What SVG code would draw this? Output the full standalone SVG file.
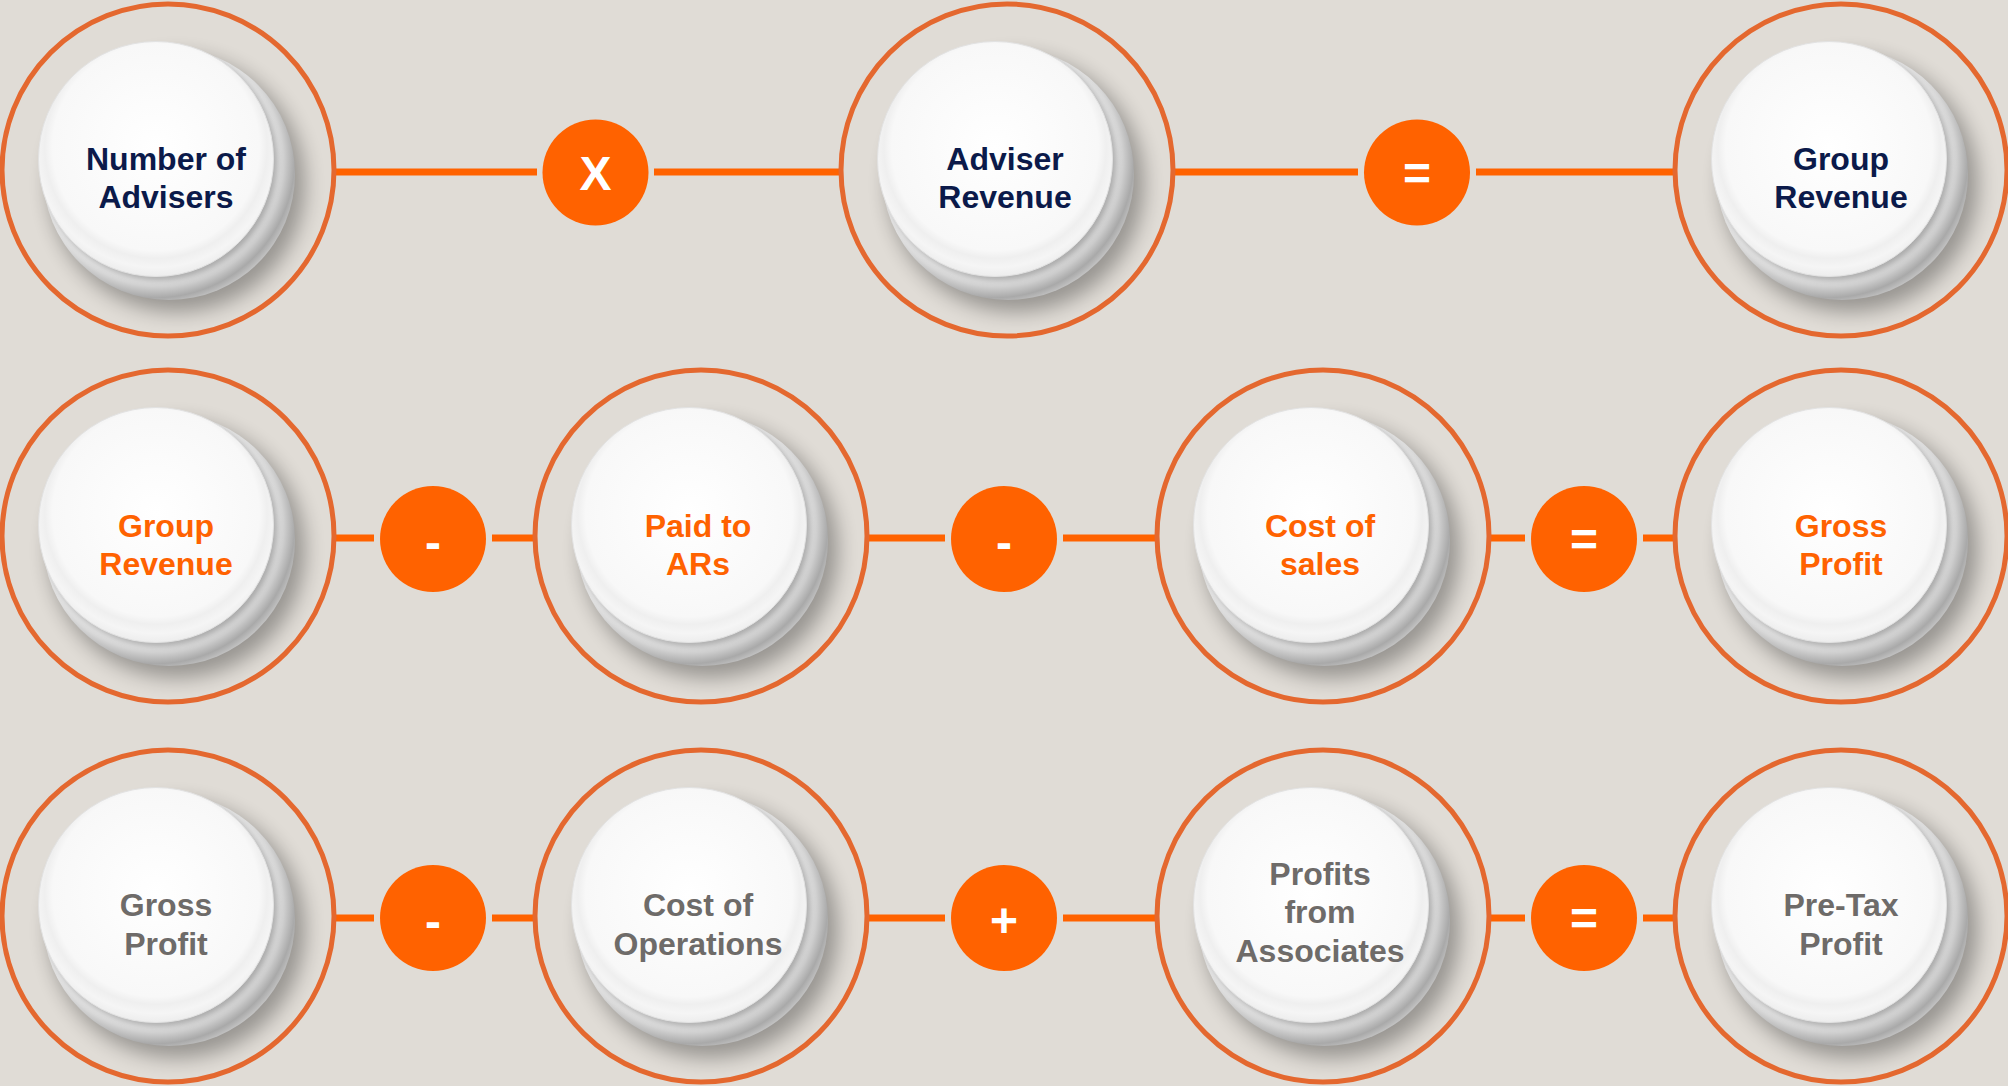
<svg xmlns="http://www.w3.org/2000/svg" width="2008" height="1086" viewBox="0 0 2008 1086">
  <style>
    .bg { fill: #E0DCD6; }
    .ring { fill: none; stroke: #E4682F; stroke-width: 5; }
    .lbl { font-family: "Liberation Sans", Arial, sans-serif; font-weight: bold; font-size: 32px; text-anchor: middle; }
    .navy { fill: #0B1A4A; }
    .orange { fill: #FF6200; }
    .grey { fill: #6E6B69; }
    .op-disc { fill: #FF6200; }
    .op-sym { font-family: "Liberation Sans", Arial, sans-serif; font-weight: bold; font-size: 48px; text-anchor: middle; fill: #FFFFFF; }
    .link { stroke: #FF6200; stroke-width: 7; fill: none; }
  </style>
  <defs>
    <filter id="softBig" x="-30%" y="-30%" width="160%" height="160%">
      <feGaussianBlur stdDeviation="10"/>
    </filter>
    <filter id="softSmall" x="-30%" y="-30%" width="160%" height="160%">
      <feGaussianBlur stdDeviation="3"/>
    </filter>
    <!-- lower dish: light top surface darkening toward its lower-right lip -->
    <radialGradient id="backGrad" gradientUnits="userSpaceOnUse" cx="-12" cy="-11" r="146">
      <stop offset="0" stop-color="#FAFAFA"/>
      <stop offset="0.80" stop-color="#F3F3F3"/>
      <stop offset="0.84" stop-color="#E2E2E2"/>
      <stop offset="0.95" stop-color="#A9A9A9"/>
      <stop offset="1" stop-color="#C4C4C4"/>
    </radialGradient>
    <radialGradient id="faceGrad" cx="0.5" cy="0.45" r="0.55">
      <stop offset="0" stop-color="#FFFFFF"/>
      <stop offset="0.8" stop-color="#F8F8F8"/>
      <stop offset="0.86" stop-color="#EFEFEF"/>
      <stop offset="0.93" stop-color="#F5F5F5"/>
      <stop offset="1" stop-color="#EDEDED"/>
    </radialGradient>
    <clipPath id="backClip">
      <circle cx="1" cy="4" r="126"/>
    </clipPath>
    <!-- dish drawn around the ring centre (0,0) -->
    <g id="plate">
      <circle cx="9" cy="14" r="128" fill="#000" opacity="0.32" filter="url(#softBig)"/>
      <circle cx="1" cy="4" r="126" fill="url(#backGrad)"/>
      <g clip-path="url(#backClip)">
        <circle cx="-9" cy="-8" r="118" fill="#000" opacity="0.3" filter="url(#softSmall)"/>
      </g>
      <circle cx="-12" cy="-11" r="117.5" fill="url(#faceGrad)" stroke="#E2E2E2" stroke-width="1"/>
    </g>
  </defs>

  <rect class="bg" x="0" y="0" width="2008" height="1086"/>

  <!-- connectors -->
  <g id="connectors">
    <path class="link" d="M335 172H537M654 172H840M1174 172H1358M1476 172H1675"/>
    <path class="link" d="M335 538H374M492 538H534M868 538H945M1063 538H1157M1490 538H1525M1643 538H1675"/>
    <path class="link" d="M335 918H374M492 918H534M868 918H945M1063 918H1157M1490 918H1525M1643 918H1675"/>
  </g>

  <!-- operators -->
  <g id="op-times"><circle class="op-disc" cx="595.5" cy="172.5" r="53"/><text class="op-sym" x="595.5" y="190" font-size="46">X</text></g>
  <g id="op-equals-1"><circle class="op-disc" cx="1417" cy="172.5" r="53"/><text class="op-sym" x="1417" y="190">=</text></g>
  <g id="op-minus-2a"><circle class="op-disc" cx="433" cy="539" r="53"/><text class="op-sym" x="433" y="559">-</text></g>
  <g id="op-minus-2b"><circle class="op-disc" cx="1004" cy="539" r="53"/><text class="op-sym" x="1004" y="559">-</text></g>
  <g id="op-equals-2"><circle class="op-disc" cx="1584" cy="539" r="53"/><text class="op-sym" x="1584" y="556">=</text></g>
  <g id="op-minus-3"><circle class="op-disc" cx="433" cy="918" r="53"/><text class="op-sym" x="433" y="938">-</text></g>
  <g id="op-plus-3"><circle class="op-disc" cx="1004" cy="918" r="53"/><text class="op-sym" x="1004" y="937">+</text></g>
  <g id="op-equals-3"><circle class="op-disc" cx="1584" cy="918" r="53"/><text class="op-sym" x="1584" y="935">=</text></g>

  <!-- row 1 -->
  <g id="node-number-of-advisers">
    <circle class="ring" cx="168" cy="170" r="166"/>
    <use href="#plate" x="168" y="170"/>
    <text class="lbl navy" x="166" y="170">Number of</text>
    <text class="lbl navy" x="166" y="208">Advisers</text>
  </g>
  <g id="node-adviser-revenue">
    <circle class="ring" cx="1007" cy="170" r="166"/>
    <use href="#plate" x="1007" y="170"/>
    <text class="lbl navy" x="1005" y="170">Adviser</text>
    <text class="lbl navy" x="1005" y="208">Revenue</text>
  </g>
  <g id="node-group-revenue-1">
    <circle class="ring" cx="1841" cy="170" r="166"/>
    <use href="#plate" x="1841" y="170"/>
    <text class="lbl navy" x="1841" y="170">Group</text>
    <text class="lbl navy" x="1841" y="208">Revenue</text>
  </g>

  <!-- row 2 -->
  <g id="node-group-revenue-2">
    <circle class="ring" cx="168" cy="536" r="166"/>
    <use href="#plate" x="168" y="536"/>
    <text class="lbl orange" x="166" y="537">Group</text>
    <text class="lbl orange" x="166" y="575">Revenue</text>
  </g>
  <g id="node-paid-to-ars">
    <circle class="ring" cx="701" cy="536" r="166"/>
    <use href="#plate" x="701" y="536"/>
    <text class="lbl orange" x="698" y="537">Paid to</text>
    <text class="lbl orange" x="698" y="575">ARs</text>
  </g>
  <g id="node-cost-of-sales">
    <circle class="ring" cx="1323" cy="536" r="166"/>
    <use href="#plate" x="1323" y="536"/>
    <text class="lbl orange" x="1320" y="537">Cost of</text>
    <text class="lbl orange" x="1320" y="575">sales</text>
  </g>
  <g id="node-gross-profit-2">
    <circle class="ring" cx="1841" cy="536" r="166"/>
    <use href="#plate" x="1841" y="536"/>
    <text class="lbl orange" x="1841" y="537">Gross</text>
    <text class="lbl orange" x="1841" y="575">Profit</text>
  </g>

  <!-- row 3 -->
  <g id="node-gross-profit-3">
    <circle class="ring" cx="168" cy="916" r="166"/>
    <use href="#plate" x="168" y="916"/>
    <text class="lbl grey" x="166" y="916">Gross</text>
    <text class="lbl grey" x="166" y="955">Profit</text>
  </g>
  <g id="node-cost-of-operations">
    <circle class="ring" cx="701" cy="916" r="166"/>
    <use href="#plate" x="701" y="916"/>
    <text class="lbl grey" x="698" y="916">Cost of</text>
    <text class="lbl grey" x="698" y="955">Operations</text>
  </g>
  <g id="node-profits-from-associates">
    <circle class="ring" cx="1323" cy="916" r="166"/>
    <use href="#plate" x="1323" y="916"/>
    <text class="lbl grey" x="1320" y="885">Profits</text>
    <text class="lbl grey" x="1320" y="923">from</text>
    <text class="lbl grey" x="1320" y="962">Associates</text>
  </g>
  <g id="node-pre-tax-profit">
    <circle class="ring" cx="1841" cy="916" r="166"/>
    <use href="#plate" x="1841" y="916"/>
    <text class="lbl grey" x="1841" y="916">Pre-Tax</text>
    <text class="lbl grey" x="1841" y="955">Profit</text>
  </g>
</svg>
